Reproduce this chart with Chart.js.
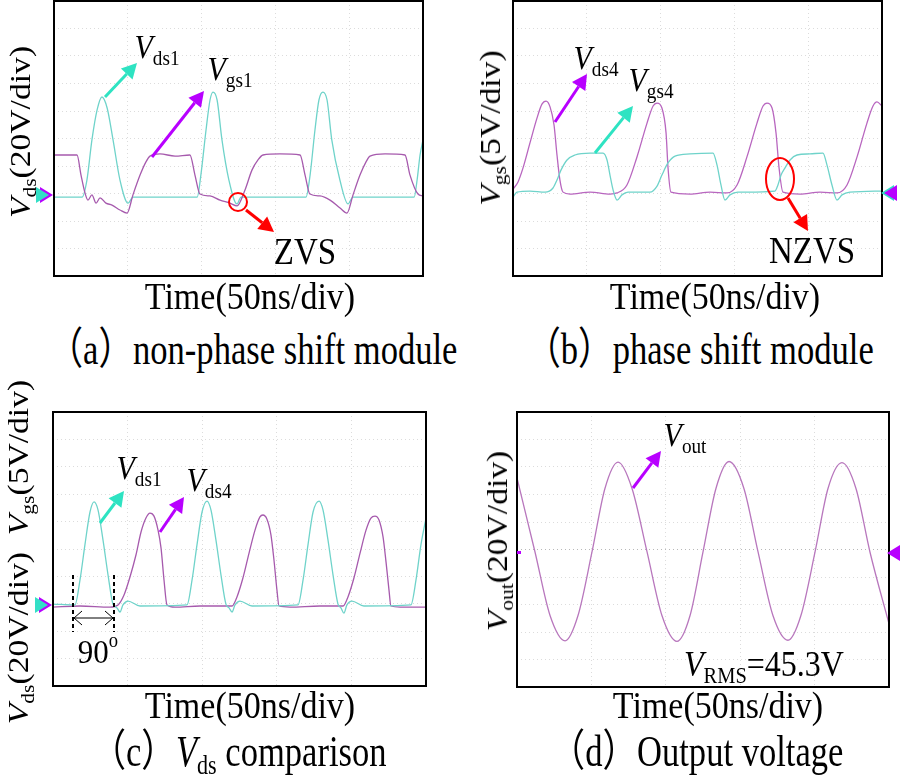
<!DOCTYPE html>
<html>
<head>
<meta charset="utf-8">
<script src="https://cdn.jsdelivr.net/npm/chart.js@4.4.0/dist/chart.umd.min.js"></script>
<style>
body { margin: 0; width: 900px; height: 775px; position: relative; overflow: hidden; background: #fff;
  font-family: "Liberation Serif", "Times New Roman", "Noto Sans CJK SC", serif; color: #000; }
.box { position: absolute; }
.t { position: absolute; white-space: nowrap; line-height: 1; transform: translate(-50%, -50%) scaleY(1.12); z-index: 5; }
.r { transform: translate(-50%, -50%) scaleY(1.12) rotate(-90deg); }
.cap { transform: translate(-50%, -50%) scale(0.96, 1.22); }
.s { font-size: 0.64em; position: relative; top: 0.3em; font-style: normal; }
.o { font-size: 0.6em; position: relative; top: -0.75em; }
</style>
</head>
<body>
<div class="box" style="left:32px;top:-1px"><canvas id="ca" width="413" height="279"></canvas></div>
<div class="box" style="left:491px;top:-1px"><canvas id="cb" width="413" height="279"></canvas></div>
<div class="box" style="left:31px;top:410px"><canvas id="cc" width="417" height="278"></canvas></div>
<div class="box" style="left:495px;top:410px"><canvas id="cd" width="416" height="279"></canvas></div>

<!-- (a) -->
<div class="t r" style="left:20px;top:132px;font-size:30px"><i>V</i><span class="s">ds</span>(20V/div)</div>
<div class="t" style="left:157px;top:47px;font-size:30px"><i>V</i><span class="s">ds1</span></div>
<div class="t" style="left:230px;top:69px;font-size:30px"><i>V</i><span class="s">gs1</span></div>
<div class="t" style="left:305px;top:252px;font-size:33px">ZVS</div>
<div class="t" style="left:250px;top:297px;font-size:34px">Time(50ns/div)</div>
<div class="t cap" style="left:253px;top:349px;font-size:36px">（a）non-phase shift module</div>

<!-- (b) -->
<div class="t r" style="left:490px;top:128px;font-size:30px"><i>V</i><span class="s">gs</span>(5V/div)</div>
<div class="t" style="left:596px;top:58px;font-size:30px"><i>V</i><span class="s">ds4</span></div>
<div class="t" style="left:651px;top:80px;font-size:30px"><i>V</i><span class="s">gs4</span></div>
<div class="t" style="left:812px;top:251px;font-size:33px">NZVS</div>
<div class="t" style="left:715px;top:297px;font-size:34px">Time(50ns/div)</div>
<div class="t cap" style="left:700px;top:349px;font-size:36px">（b）phase shift module</div>

<!-- (c) -->
<div class="t r" style="left:18px;top:552px;font-size:30px"><i>V</i><span class="s">ds</span>(20V/div)&nbsp; <i>V</i><span class="s">gs</span>(5V/div)</div>
<div class="t" style="left:139px;top:468px;font-size:30px"><i>V</i><span class="s">ds1</span></div>
<div class="t" style="left:209px;top:480px;font-size:30px"><i>V</i><span class="s">ds4</span></div>
<div class="t" style="left:98px;top:651px;font-size:31px">90<span class="o">o</span></div>
<div class="t" style="left:250px;top:706px;font-size:34px">Time(50ns/div)</div>
<div class="t cap" style="left:239px;top:751px;font-size:36px">（c）<i>V</i><span class="s">ds</span> comparison</div>

<!-- (d) -->
<div class="t r" style="left:497px;top:541px;font-size:30px"><i>V</i><span class="s">out</span>(20V/div)</div>
<div class="t" style="left:685px;top:435px;font-size:30px"><i>V</i><span class="s">out</span></div>
<div class="t" style="left:764px;top:664px;font-size:32px"><i>V</i><span class="s">RMS</span>=45.3V</div>
<div class="t" style="left:718px;top:706px;font-size:34px">Time(50ns/div)</div>
<div class="t cap" style="left:697px;top:751px;font-size:36px">（d）Output voltage</div>

<script>
// time in ns (50 ns/div, 5 div across), level in screen divisions from the bottom (10 div high)

// (a) non-phase shift module
const aVdsTime = [0, 19, 22.3, 25.7, 29.2, 32.5, 36, 40, 44.7, 50.2, 53.5, 97, 99.5, 103, 105.7, 107.7, 110.5, 113.8, 118.5, 124, 126.7, 170.7, 173.5, 176.8, 179.5, 182.2, 185, 188.2, 193.7, 199.2, 202.5, 244, 246, 248, 250];
const aVdsLevel = [2.87, 2.87, 3.49, 4.95, 6.04, 6.51, 6.11, 4.95, 3.49, 2.65, 2.87, 2.87, 3.67, 5.31, 6.40, 6.69, 6.40, 4.95, 3.49, 2.62, 2.87, 2.87, 3.67, 5.31, 6.40, 6.69, 6.40, 4.95, 3.49, 2.62, 2.87, 2.87, 3.49, 4.40, 4.95];
const aVgsTime = [0, 15.6, 18.3, 21.0, 23.0, 25.7, 28.5, 31.2, 35.2, 39.3, 44.7, 49.5, 53.5, 58.3, 62.3, 65.0, 71.8, 82.0, 92.1, 95.5, 98.9, 105.7, 112.5, 119.2, 124.0, 129.4, 134.1, 138.2, 141.6, 153.1, 166.7, 170.1, 173.4, 180.2, 187.0, 193.8, 198.5, 202.6, 207.3, 211.4, 214.1, 224.3, 237.8, 241.2, 246.6, 250];
const aVgsLevel = [4.40, 4.40, 3.67, 3.02, 2.76, 2.95, 2.65, 2.84, 2.65, 2.58, 2.40, 2.29, 2.95, 3.67, 4.15, 4.36, 4.44, 4.36, 4.40, 3.67, 2.98, 2.91, 2.76, 2.65, 2.55, 3.13, 3.85, 4.22, 4.40, 4.44, 4.40, 3.67, 2.98, 2.91, 2.76, 2.47, 2.29, 2.95, 3.67, 4.15, 4.36, 4.44, 4.40, 3.67, 2.98, 2.91];

// (b) phase shift module
const bVdsTime = [0, 3.4, 6.8, 11.5, 16.3, 19.6, 22.4, 25.1, 27.8, 29.8, 31.8, 33.9, 38.6, 52.2, 65.7, 70.5, 77.2, 84.0, 90.8, 94.9, 97.6, 100.9, 103.7, 105.0, 107.0, 119.9, 133.5, 145.0, 151.8, 158.5, 165.3, 169.4, 172.1, 175.5, 178.2, 180.2, 182.9, 194.4, 208.0, 219.5, 226.3, 233.1, 239.8, 243.9, 246.6, 250];
const bVdsLevel = [3.16, 3.42, 3.93, 4.84, 5.75, 6.25, 6.36, 6.15, 5.49, 4.40, 3.49, 3.05, 2.98, 3.05, 2.98, 3.02, 3.31, 4.33, 5.56, 6.18, 6.29, 6.11, 5.20, 3.96, 3.05, 2.98, 3.05, 3.02, 3.31, 4.33, 5.56, 6.18, 6.29, 6.11, 5.20, 3.96, 3.05, 2.98, 3.05, 3.02, 3.31, 4.33, 5.56, 6.18, 6.33, 6.18];
const bVgsTime = [0, 2.7, 11.5, 21.7, 27.1, 29.8, 32.5, 36.6, 42.0, 52.2, 61.0, 63.7, 65.7, 67.8, 70.5, 73.8, 77.9, 92.8, 97.6, 100.9, 105.0, 109.8, 119.9, 135.5, 138.2, 140.9, 143.6, 147.0, 152.4, 177.5, 179.5, 181.6, 184.3, 187.7, 192.4, 201.2, 210.0, 212.7, 216.1, 219.5, 222.9, 228.3, 250];
const bVgsLevel = [2.87, 3.05, 3.09, 3.05, 3.20, 3.49, 3.85, 4.22, 4.40, 4.47, 4.47, 4.22, 3.67, 3.13, 2.76, 2.95, 3.05, 3.05, 3.27, 3.67, 4.11, 4.36, 4.44, 4.47, 4.04, 3.31, 2.76, 2.95, 3.05, 3.09, 3.31, 3.67, 3.93, 4.22, 4.40, 4.44, 4.47, 4.04, 3.31, 2.76, 2.95, 3.05, 3.09];

// (c) Vds comparison
const cVds1Time = [0, 14.7, 18.1, 21.4, 24.8, 27.5, 30.2, 33.5, 36.9, 40.2, 42.9, 44.9, 46.9, 50.3, 58.3, 89.8, 93.2, 96.5, 99.9, 103.2, 105.9, 109.2, 112.6, 115.9, 118.0, 120.0, 122.0, 125.3, 133.4, 164.2, 167.6, 170.9, 174.3, 178.3, 181.0, 184.3, 187.7, 191.0, 193.0, 195.0, 197.0, 200.4, 208.4, 239.9, 243.3, 246.6, 250];
const cVds1Level = [2.99, 2.96, 3.87, 5.15, 6.35, 6.72, 6.42, 5.33, 4.05, 2.99, 2.85, 2.70, 2.96, 3.10, 2.92, 2.96, 3.87, 5.15, 6.35, 6.75, 6.42, 5.33, 4.05, 2.99, 2.85, 2.70, 2.96, 3.10, 2.92, 2.96, 3.87, 5.15, 6.35, 6.75, 6.42, 5.33, 4.05, 2.99, 2.85, 2.66, 2.96, 3.10, 2.92, 2.96, 3.87, 5.15, 6.13];
const cVds4Time = [0, 18.1, 38.2, 43.6, 47.6, 51.6, 55.6, 59.0, 62.3, 65.0, 67.7, 70.4, 72.4, 74.4, 76.4, 81.8, 98.5, 120.0, 123.3, 127.3, 131.4, 135.4, 138.7, 140.7, 143.4, 146.1, 148.1, 150.1, 151.5, 158.8, 178.9, 194.4, 197.7, 201.7, 205.8, 209.8, 213.1, 215.8, 218.5, 221.2, 223.2, 225.2, 226.5, 232.6, 250];
const cVds4Level = [2.88, 2.92, 2.88, 2.96, 3.32, 3.98, 4.78, 5.62, 6.13, 6.31, 6.20, 5.69, 5.04, 3.87, 2.96, 2.88, 2.92, 2.92, 3.25, 3.94, 4.85, 5.69, 6.17, 6.24, 6.09, 5.51, 4.60, 3.50, 2.92, 2.88, 2.92, 2.92, 3.25, 3.94, 4.85, 5.69, 6.13, 6.20, 6.06, 5.44, 4.53, 3.50, 2.92, 2.88, 2.88];

// (d) output voltage
const dVoutTime = [0, 12.1, 22.2, 32.3, 41.0, 50.4, 59.1, 67.9, 77.3, 87.4, 97.4, 107.5, 116.3, 125.0, 133.7, 142.5, 152.5, 162.0, 172.0, 182.1, 190.8, 200.3, 209.0, 218.4, 227.8, 237.2, 250];
const dVoutLevel = [7.60, 4.91, 2.60, 1.68, 2.60, 4.91, 7.22, 8.18, 7.22, 4.91, 2.60, 1.66, 2.60, 4.91, 7.22, 8.20, 7.22, 4.91, 2.60, 1.70, 2.60, 4.91, 7.22, 8.16, 7.22, 4.91, 2.30];

const CYAN = '#6fd3ca', MAG = '#a65aad';
const ARROW_C = '#2ee3c2', ARROW_M = '#b800ff', RED = '#ff0000';

const pts = (t, v) => t.map((x, i) => ({ x: x, y: v[i] }));

// frame, arrows, circles and channel markers, in page pixels
const marks = {
  id: 'marks',
  afterDraw(chart) {
    const ctx = chart.ctx;
    const a = chart.chartArea;
    const o = chart.options.plugins.marks;
    ctx.save();
    ctx.strokeStyle = '#000';
    ctx.lineWidth = 2;
    ctx.strokeRect(a.left, a.top, a.right - a.left, a.bottom - a.top);
    ctx.translate(-o.origin[0], -o.origin[1]);
    o.items.forEach(it => {
      ctx.save();
      if (it.type === 'arrow') {
        const [x1, y1] = it.from, [x2, y2] = it.to;
        const ang = Math.atan2(y2 - y1, x2 - x1);
        const len = 15, hw = 8;
        const bx = x2 - len * Math.cos(ang), by = y2 - len * Math.sin(ang);
        ctx.strokeStyle = it.color; ctx.fillStyle = it.color; ctx.lineWidth = 3;
        ctx.beginPath(); ctx.moveTo(x1, y1); ctx.lineTo(bx, by); ctx.stroke();
        ctx.beginPath();
        ctx.moveTo(x2, y2);
        ctx.lineTo(bx + hw * Math.sin(ang), by - hw * Math.cos(ang));
        ctx.lineTo(bx - hw * Math.sin(ang), by + hw * Math.cos(ang));
        ctx.closePath(); ctx.fill();
      } else if (it.type === 'ellipse') {
        ctx.strokeStyle = RED; ctx.lineWidth = 2;
        ctx.beginPath(); ctx.ellipse(it.c[0], it.c[1], it.r[0], it.r[1], 0, 0, Math.PI * 2); ctx.stroke();
      } else if (it.type === 'tri') {
        const [x, y] = it.tip, d = it.dir;
        ctx.fillStyle = it.color;
        ctx.beginPath(); ctx.moveTo(x, y); ctx.lineTo(x - d * 13, y - 8); ctx.lineTo(x - d * 13, y + 8); ctx.closePath(); ctx.fill();
      } else if (it.type === 'dash') {
        ctx.strokeStyle = '#000'; ctx.lineWidth = 2; ctx.setLineDash([4, 3]);
        ctx.beginPath(); ctx.moveTo(it.x, it.y1); ctx.lineTo(it.x, it.y2); ctx.stroke();
      } else if (it.type === 'span') {
        ctx.strokeStyle = '#000'; ctx.lineWidth = 1;
        ctx.beginPath(); ctx.moveTo(it.x1, it.y); ctx.lineTo(it.x2, it.y);
        ctx.moveTo(it.x1 + 8, it.y - 7); ctx.lineTo(it.x1, it.y); ctx.lineTo(it.x1 + 8, it.y + 7);
        ctx.moveTo(it.x2 - 8, it.y - 7); ctx.lineTo(it.x2, it.y); ctx.lineTo(it.x2 - 8, it.y + 7);
        ctx.stroke();
      } else if (it.type === 'tick') {
        ctx.fillStyle = it.color; ctx.fillRect(it.x, it.y, 4, 3);
      }
      ctx.restore();
    });
    ctx.restore();
  }
};

function scope(id, origin, pad, datasets, items, centre) {
  const gridColor = c => (centre && c.tick && c.tick.value === 5) ? '#b8b8b8' : '#dcdcdc';
  return new Chart(document.getElementById(id), {
    type: 'line',
    data: { datasets: datasets },
    options: {
      responsive: false,
      animation: false,
      events: [],
      layout: { padding: pad },
      elements: { point: { radius: 0 }, line: { borderWidth: 1.3, cubicInterpolationMode: 'monotone' } },
      plugins: { legend: { display: false }, tooltip: { enabled: false }, marks: { origin: origin, items: items } },
      scales: {
        x: { type: 'linear', min: 0, max: 250, ticks: { display: false, stepSize: 50 },
             grid: { drawTicks: false, color: gridColor }, border: { display: false, dash: [1, 3] } },
        y: { type: 'linear', min: 0, max: 10, ticks: { display: false, stepSize: 1 },
             grid: { drawTicks: false, color: gridColor }, border: { display: false, dash: [1, 3] } }
      }
    },
    plugins: [marks]
  });
}

const padLR = { left: 22, right: 22, top: 2, bottom: 2 };

scope('ca', [32, -1], padLR, [
  { data: pts(aVgsTime, aVgsLevel), borderColor: MAG },
  { data: pts(aVdsTime, aVdsLevel), borderColor: CYAN }
], [
  { type: 'arrow', from: [105, 97], to: [137, 63], color: ARROW_C },
  { type: 'arrow', from: [152, 157], to: [204, 91], color: ARROW_M },
  { type: 'ellipse', c: [238, 202], r: [9, 9] },
  { type: 'arrow', from: [246, 210], to: [274, 232], color: RED },
  { type: 'tri', tip: [53, 195], dir: 1, color: ARROW_M },
  { type: 'tri', tip: [49, 195], dir: 1, color: '#33dfc6' }
]);

scope('cb', [491, -1], padLR, [
  { data: pts(bVgsTime, bVgsLevel), borderColor: CYAN },
  { data: pts(bVdsTime, bVdsLevel), borderColor: '#b866bf' }
], [
  { type: 'arrow', from: [555, 122], to: [587, 74], color: ARROW_M },
  { type: 'arrow', from: [595, 153], to: [633, 106], color: ARROW_C },
  { type: 'ellipse', c: [780, 179], r: [14, 21] },
  { type: 'arrow', from: [788, 198], to: [808, 231], color: RED },
  { type: 'tri', tip: [881, 193], dir: -1, color: '#33dfc6' },
  { type: 'tri', tip: [884, 193], dir: -1, color: ARROW_M }
]);

scope('cc', [31, 410], padLR, [
  { data: pts(cVds1Time, cVds1Level), borderColor: CYAN },
  { data: pts(cVds4Time, cVds4Level), borderColor: MAG }
], [
  { type: 'arrow', from: [100, 523], to: [124, 491], color: ARROW_C },
  { type: 'arrow', from: [160, 532], to: [184, 497], color: ARROW_M },
  { type: 'dash', x: 73, y1: 575, y2: 632 },
  { type: 'dash', x: 114, y1: 575, y2: 632 },
  { type: 'span', x1: 74, x2: 113, y: 618 },
  { type: 'tri', tip: [52, 605], dir: 1, color: ARROW_M },
  { type: 'tri', tip: [48, 605], dir: 1, color: '#33dfc6' }
]);

scope('cd', [495, 410], padLR, [
  { data: pts(dVoutTime, dVoutLevel), borderColor: '#b877bd' }
], [
  { type: 'arrow', from: [633, 488], to: [661, 451], color: ARROW_M },
  { type: 'tri', tip: [887, 553], dir: -1, color: ARROW_M },
  { type: 'tick', x: 517, y: 551, color: ARROW_M }
], true);
</script>
</body>
</html>
